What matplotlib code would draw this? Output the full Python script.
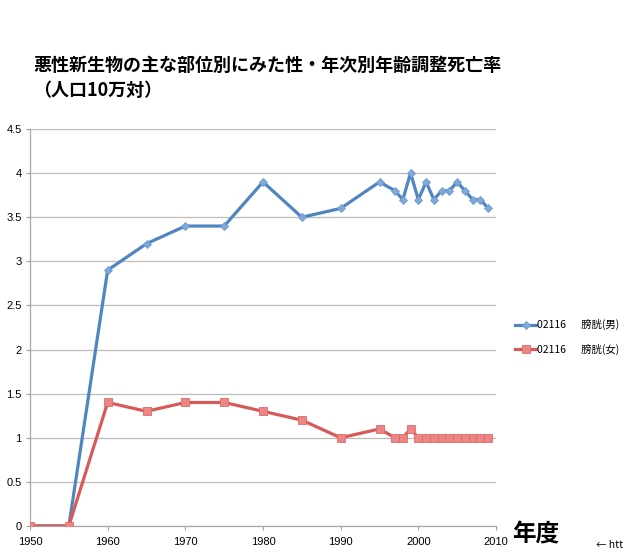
import matplotlib
matplotlib.use("Agg")
import matplotlib.pyplot as plt

plt.rcParams['font.family'] = ['Noto Sans CJK JP', 'DejaVu Sans']

years = [1950, 1955, 1960, 1965, 1970, 1975, 1980, 1985, 1990, 1995,
         1997, 1998, 1999, 2000, 2001, 2002, 2003, 2004, 2005, 2006, 2007, 2008, 2009]
male = [0, 0, 2.9, 3.2, 3.4, 3.4, 3.9, 3.5, 3.6, 3.9,
        3.8, 3.7, 4.0, 3.7, 3.9, 3.7, 3.8, 3.8, 3.9, 3.8, 3.7, 3.7, 3.6]
female = [0, 0, 1.4, 1.3, 1.4, 1.4, 1.3, 1.2, 1.0, 1.1,
          1.0, 1.0, 1.1, 1.0, 1.0, 1.0, 1.0, 1.0, 1.0, 1.0, 1.0, 1.0, 1.0]
label_m = "02116　  膀胱(男)"
label_f = "02116　  膀胱(女)"
title = "悪性新生物の主な部位別にみた性・年次別年齢調整死亡率\n（人口10万対）"
xticks = [1950, 1960, 1970, 1980, 1990, 2000, 2010]
yticks = [0, 0.5, 1, 1.5, 2, 2.5, 3, 3.5, 4, 4.5]
ytick_labels = ["0", "0.5", "1", "1.5", "2", "2.5", "3", "3.5", "4", "4.5"]

W, H = 625, 553
fig = plt.figure(figsize=(W / 100, H / 100), dpi=100)
ax = fig.add_axes([30 / W, 1 - 526 / H, (496 - 30) / W, (526 - 129) / H])

ax.plot(years, male, color='#4F86C0', lw=2.3, marker='D', ms=4.3,
        mfc='#7FA9D9', mec='#6E9BD0', mew=0.6, label=label_m, zorder=3)
ax.plot(years, female, color='#D65A5A', lw=2.3, marker='s', ms=5.5,
        mfc='#EE8585', mec='#E06A6A', mew=0.6, label=label_f, zorder=3)

ax.set_xlim(1950, 2010)
ax.set_ylim(0, 4.5)
ax.set_xticks(xticks)
ax.set_yticks(yticks)
ax.set_yticklabels(ytick_labels)
ax.tick_params(axis='both', labelsize=7.5, length=3, color='#A0A0A0', width=0.8)
ax.tick_params(axis='x', direction='out', pad=5)
ax.tick_params(axis='y', pad=3)
for lbl in ax.get_yticklabels() + ax.get_xticklabels():
    lbl.set_family(['Liberation Sans Narrow', 'Liberation Sans', 'DejaVu Sans'])
    lbl.set_fontsize(8)
ax.grid(axis='y', color='#BBBBBB', lw=0.9)
ax.set_axisbelow(True)
for s in ['top', 'right']:
    ax.spines[s].set_visible(False)
ax.spines['left'].set_color('#A8A8A8')
ax.spines['bottom'].set_color('#A8A8A8')
for s in ['left', 'bottom']:
    ax.spines[s].set_linewidth(0.9)

fig.text(33 / W, 1 - 56 / H, title, fontsize=13, fontweight='bold',
         va='top', ha='left', linespacing=1.4)

leg = fig.legend(loc='upper left', bbox_to_anchor=(506 / W, 1 - 310 / H),
                 frameon=False, fontsize=7.5, handlelength=2.0,
                 handletextpad=0.1, labelspacing=1.3)

fig.text(512 / W, 1 - 534 / H, "年度", fontsize=17, fontweight='bold',
         va='center', ha='left')
fig.text(596 / W, 1 - 545 / H, "← htt", fontsize=7.5, va='center', ha='left')

fig.savefig("out.png", dpi=100)
